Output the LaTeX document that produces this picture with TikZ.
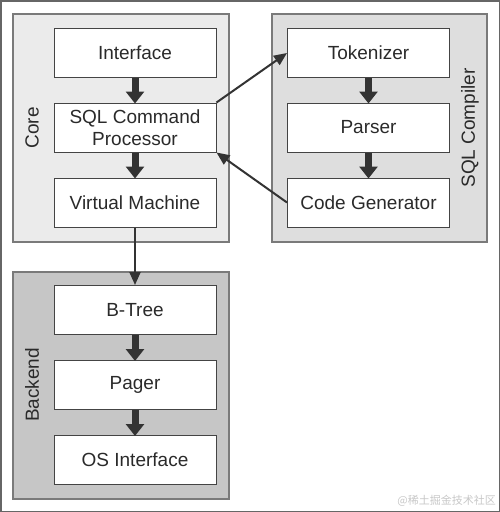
\documentclass[tikz,border=0pt]{standalone}
\usepackage{fontspec}
\setmainfont{Liberation Sans}
\newfontfamily\cjkfont{Noto Sans CJK SC}
\usetikzlibrary{arrows.meta}
\definecolor{frameC}{HTML}{666666}
\definecolor{coreC}{HTML}{EBEBEB}
\definecolor{compC}{HTML}{DEDEDE}
\definecolor{backC}{HTML}{C6C6C6}
\definecolor{groupB}{HTML}{7A7A7A}
\definecolor{boxB}{HTML}{444444}
\definecolor{arrC}{HTML}{333333}
\definecolor{txtC}{HTML}{2A2A2A}
\tikzset{
  stepbox/.style={draw=boxB, line width=1pt, fill=white, minimum width=162pt, minimum height=49pt, inner sep=0pt, align=center, font=\fontsize{19}{22}\selectfont, text=txtC},
  grp/.style={draw=groupB, line width=1.2pt, inner sep=0pt},
  grplabel/.style={rotate=90, font=\fontsize{19}{22}\selectfont, text=txtC},
  fatarrow/.style={draw=arrC, line width=7pt, -{Triangle[width=18pt,length=12pt]}, shorten >=-1pt},
  thinarrow/.style={draw=arrC, line width=2pt, -{Triangle[width=11pt,length=13pt]}},
}
\begin{document}
\begin{tikzpicture}[x=1pt,y=-1pt]
\useasboundingbox (0,0) rectangle (500,512);
\node[draw=frameC, line width=1.5pt, minimum width=498.5pt, minimum height=510.5pt, inner sep=0pt] (frame) at (250,256) {};
% groups
\node[grp, fill=coreC, minimum width=216pt, minimum height=228pt] (core) at (121,128) {};
\node[grp, fill=compC, minimum width=215pt, minimum height=228pt] (comp) at (379.5,128) {};
\node[grp, fill=backC, minimum width=216pt, minimum height=227pt] (back) at (121,385.5) {};
\node[grplabel] (corelbl) at (32,128) {Core};
\node[grplabel] (complbl) at (470,128) {SQL Compiler};
\node[grplabel] (backlbl) at (32,385) {Backend};
% boxes
\node[stepbox] (iface) at (135,53) {Interface};
\node[stepbox] (sqlcp) at (135,127.5) {SQL Command\\Processor};
\node[stepbox] (vm) at (135,202.5) {Virtual Machine};
\node[stepbox] (tok) at (368.5,53) {Tokenizer};
\node[stepbox] (parser) at (368.5,127.5) {Parser};
\node[stepbox] (codegen) at (368.5,202.5) {Code Generator};
\node[stepbox] (btree) at (135,310) {B-Tree};
\node[stepbox] (pager) at (135,385) {Pager};
\node[stepbox] (osif) at (135,460) {OS Interface};
% arrows
\draw[fatarrow] (iface) -- (sqlcp);
\draw[fatarrow] (sqlcp) -- (vm);
\draw[fatarrow] (tok) -- (parser);
\draw[fatarrow] (parser) -- (codegen);
\draw[fatarrow] (btree) -- (pager);
\draw[fatarrow] (pager) -- (osif);
\draw[thinarrow] (sqlcp.north east) -- (tok.west);
\draw[thinarrow] (codegen.west) -- (sqlcp.south east);
\draw[thinarrow] (vm.south) -- (btree.north);
% watermark
\node[anchor=south east, inner sep=0pt, text=black!22, font=\cjkfont\fontsize{11}{12}\selectfont] (wm) at (496,507) {@稀土掘金技术社区};
\end{tikzpicture}
\end{document}
